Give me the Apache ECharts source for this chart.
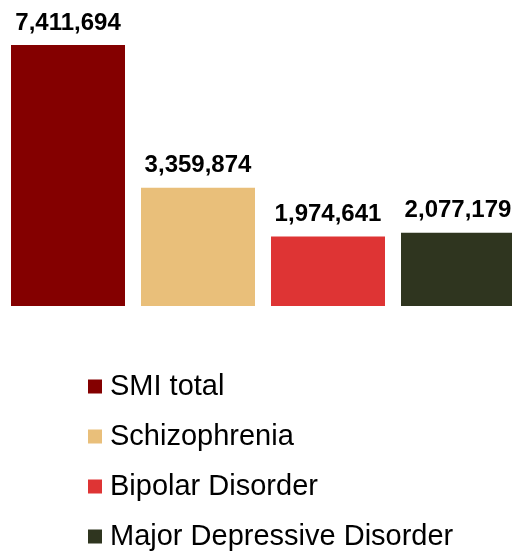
<!DOCTYPE html>
<html>
<head>
<meta charset="utf-8">
<script src="https://cdn.jsdelivr.net/npm/echarts@6/dist/echarts.min.js"></script>
<style>
  html, body { margin: 0; padding: 0; background: #fff; }
  #chart { width: 512px; height: 552px; }
</style>
</head>
<body>
<div id="chart"></div>
<script>
const categories = ["SMI total", "Schizophrenia", "Bipolar Disorder", "Major Depressive Disorder"];
const values = [7411694, 3359874, 1974641, 2077179];
const colors = ["#840000", "#E9BF7A", "#DE3434", "#2F351F"];

const myChart = echarts.init(document.getElementById("chart"));

const series = categories.map((name, i) => ({
  name: name,
  type: "bar",
  data: values.map((v, j) => (j === i ? v : "-")),
  barWidth: 114,
  barGap: "-100%",
  itemStyle: { color: colors[i] },
  label: {
    show: true,
    position: "top",
    distance: 10,
    fontFamily: "Liberation Sans, Arial, sans-serif",
    fontWeight: "bold",
    fontSize: 24,
    color: "#000",
    formatter: (p) => p.value.toLocaleString("en-US"),
  },
}));

myChart.setOption({
  animation: false,
  grid: {
    left: 3,
    width: 520,
    top: 45,
    bottom: 246,
    outerBoundsMode: "none",
  },
  xAxis: {
    type: "category",
    data: categories,
    show: false,
  },
  yAxis: {
    type: "value",
    min: 0,
    max: 7411694,
    show: false,
  },
  legend: {
    orient: "vertical",
    left: 88,
    top: 372,
    padding: 0,
    height: 200,
    itemGap: 21,
    itemWidth: 14,
    itemHeight: 14,
    icon: "rect",
    textStyle: {
      fontFamily: "Liberation Sans, Arial, sans-serif",
      fontSize: 29,
      color: "#000",
      padding: [0, 0, 0, 3],
    },
    data: categories,
  },
  series: series,
});
</script>
</body>
</html>
